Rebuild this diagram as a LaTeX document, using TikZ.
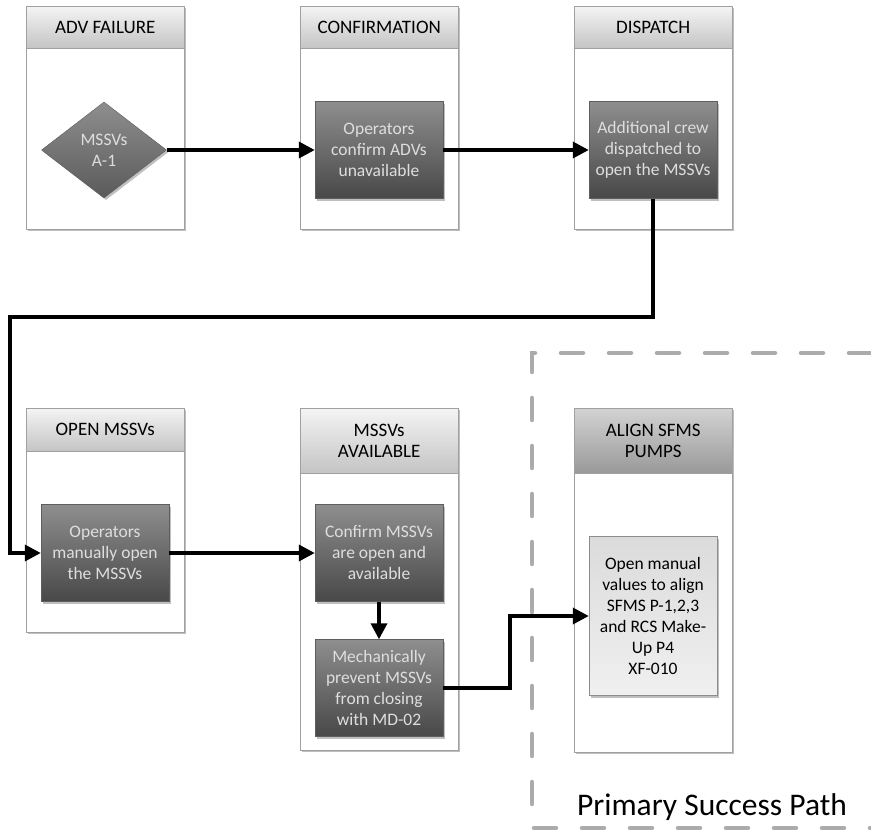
\documentclass[tikz,border=0pt]{standalone}
\usepackage{fontspec}
\setmainfont{Carlito}
\usetikzlibrary{arrows.meta,shadows,shapes.geometric}
\definecolor{laneline}{HTML}{A0A0A0}
\definecolor{headtop}{HTML}{F4F4F4}
\definecolor{headbot}{HTML}{C4C4C4}
\definecolor{darktop}{HTML}{8E8E8E}
\definecolor{darkbot}{HTML}{484848}
\definecolor{darkedge}{HTML}{5E5E5E}
\definecolor{darktext}{HTML}{DEDEDE}
\definecolor{pathline}{HTML}{ABABAB}
\tikzset{
  shade/.style={drop shadow={shadow xshift=2pt,shadow yshift=-2pt,opacity=0.25,fill=black}},
  lane/.style={draw=laneline,fill=white,anchor=north west,minimum width=158pt,inner sep=0pt,shade},
  lanehead/.style={draw=laneline,top color=headtop,bottom color=headbot,anchor=north west,
    minimum width=158pt,inner sep=0pt,align=center,font=\fontsize{19}{21}\selectfont},
  darkbox/.style={draw=darkedge,top color=darktop,bottom color=darkbot,text=darktext,
    minimum width=128pt,minimum height=97pt,inner sep=1pt,align=center,
    font=\fontsize{17.5}{21}\selectfont,shade},
  flow/.style={line width=3.5pt,-{Triangle[length=16pt,width=16pt]}}
}
\begin{document}
\begin{tikzpicture}[x=1pt,y=-1pt]
\useasboundingbox (0,0) rectangle (871,831);
\pgfmathsetmacro{\topH}{223}
\pgfmathsetmacro{\hdH}{42}
%primary success path frame
\draw[pathline,line width=4.5pt,dash pattern=on 22pt off 26pt,line cap=round]
  (871,353)--(532,353)--(532,828)--(871,828);
\node[font=\fontsize{31.5}{34}\selectfont,anchor=base] (pathlabel) at (712,815) {Primary Success Path};
%upper row of lanes
\node[lane,minimum height=\topH pt] (lane1) at (26,6) {};
\node[lanehead,minimum height=\hdH pt] (head1) at (lane1.north west) {ADV FAILURE};
\node[lane,minimum height=\topH pt] (lane2) at (300,6) {};
\node[lanehead,minimum height=\hdH pt] (head2) at (lane2.north west) {CONFIRMATION};
\node[lane,minimum height=\topH pt] (lane3) at (574,6) {};
\node[lanehead,minimum height=\hdH pt] (head3) at (lane3.north west) {DISPATCH};
%lower row of lanes
\node[lane,minimum height=224pt] (lane4) at (26,408) {};
\node[lanehead,minimum height=43pt] (head4) at (lane4.north west) {OPEN MSSVs};
\node[lane,minimum height=342pt] (lane5) at (300,408) {};
\node[lanehead,minimum height=65pt] (head5) at (lane5.north west) {MSSVs\\AVAILABLE};
\node[lane,minimum height=344pt] (lane6) at (574,408) {};
\node[lanehead,minimum height=65pt,top color=headbot!75,bottom color=black!40] (head6) at (lane6.north west) {ALIGN SFMS\\PUMPS};
%steps
\node[diamond,draw=darkedge,top color=darktop,bottom color=darkbot!90,text=darktext,
  minimum width=125pt,minimum height=96pt,inner sep=0pt,align=center,
  font=\fontsize{17.5}{21}\selectfont,shade] (fail) at (104,150) {MSSVs\\A-1};
\node[darkbox] (confirm) at (379,150) {Operators\\confirm ADVs\\unavailable};
\node[darkbox] (crew) at (653,150) {Additional crew\\dispatched to\\open the MSSVs};
\node[darkbox] (manual) at (105,553) {Operators\\manually open\\the MSSVs};
\node[darkbox] (confopen) at (379,553) {Confirm MSSVs\\are open and\\available};
\node[darkbox] (mech) at (379,688) {Mechanically\\prevent MSSVs\\from closing\\with MD-02};
\node[darkbox,text=black,top color=black!14,bottom color=black!6,draw=black!45,
  minimum height=159pt] (align) at (653,616) {Open manual\\values to align\\SFMS P-1,2,3\\and RCS Make-\\Up P4\\XF-010};
%connectors
\coordinate (loop) at (10,317);
\coordinate (jog) at (510,616);
\draw[flow] (fail.east)--(confirm.west);
\draw[flow] (confirm.east)--(crew.west);
\draw[flow] (crew.south)|-(loop)|-(manual.west);
\draw[flow] (manual.east)--(confopen.west);
\draw[flow] (confopen.south)--(mech.north);
\draw[flow] (mech.east)-|(jog)--(align.west);
\end{tikzpicture}
\end{document}
